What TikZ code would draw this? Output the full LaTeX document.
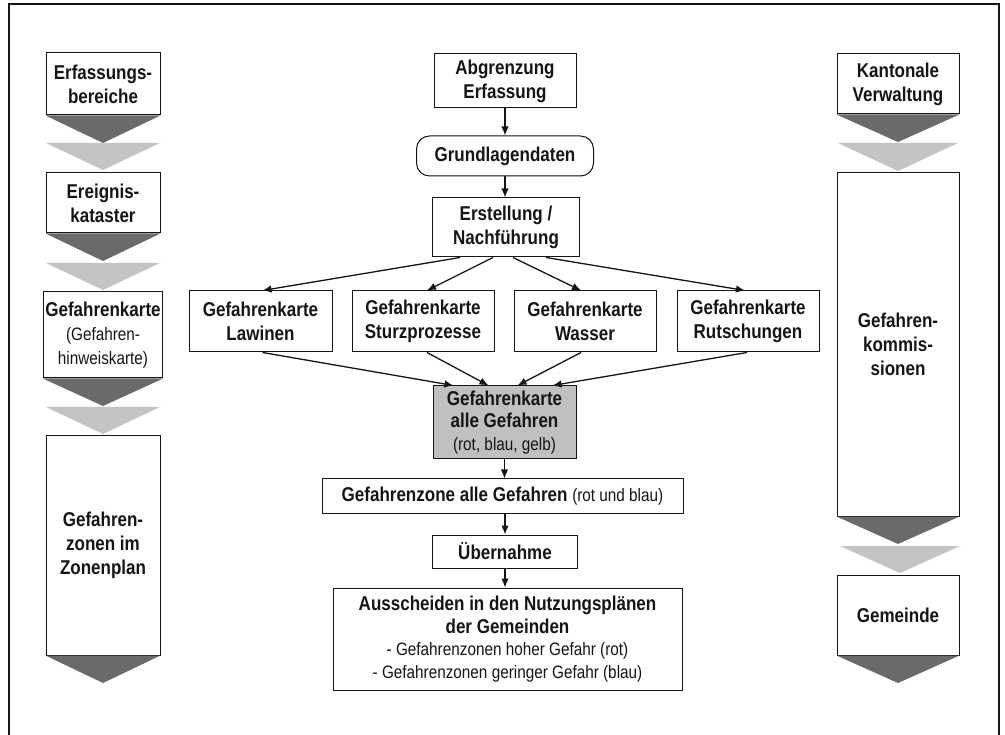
\documentclass[tikz,border=0pt]{standalone}
\usepackage{fontspec}
\setmainfont{Liberation Sans}[FakeStretch=0.85]
\usetikzlibrary{arrows.meta,calc}
\definecolor{darktri}{HTML}{6A6A6A}
\definecolor{lighttri}{HTML}{C4C4C4}
\definecolor{boxfill}{HTML}{C0C0C0}
\definecolor{ink}{HTML}{151515}
\newcommand\smalltxt{\fontsize{18}{21.5}\selectfont\mdseries}
\begin{document}
\begin{tikzpicture}[x=1pt,y=-1pt,
  box/.style={draw=ink, line width=1pt, fill=white, align=center, inner sep=2pt,
    font=\fontsize{20}{24}\selectfont\bfseries, text=ink},
  arr/.style={line width=1.3pt, draw=ink, -{Latex[length=9pt,width=7.5pt]}},
  darkt/.style={fill=darktri},
  lightt/.style={fill=lighttri}]
\useasboundingbox (0,0) rectangle (1005,735);
\draw[line width=1.3pt, ink] (9,760) -- (9,4) -- (999,4) -- (999,760);

% ---------- left column ----------
\node[box, minimum width=114pt, minimum height=62pt] (erf) at (103,84) {Erfassungs-\\bereiche};
\node[box, minimum width=114pt, minimum height=60pt] (ereig) at (103,203) {Ereignis-\\kataster};
\node[box, minimum width=114pt, minimum height=86pt] (gkarte) at (103,335) {Gefahrenkarte\\{\smalltxt (Gefahren-}\\{\smalltxt hinweiskarte)}};
\node[box, minimum width=114pt, minimum height=219pt] (gzonen) at (103,545.5) {Gefahren-\\zonen im\\Zonenplan};

\foreach \n in {erf,ereig,gkarte,gzonen}{
  \fill[darkt] (\n.south west) -- (\n.south east) -- ($(\n.south)+(0,27.5)$) -- cycle;
}
\fill[lightt] (46,143) -- (160,143) -- (103,170) -- cycle;
\fill[lightt] (46,263) -- (160,263) -- (103,290) -- cycle;
\fill[lightt] (46,407) -- (160,407) -- (103,434) -- cycle;

% ---------- right column ----------
\node[box, minimum width=122pt, minimum height=60pt] (kant) at (898,84) {Kantonale\\Verwaltung};
\node[box, minimum width=122pt, minimum height=343pt] (komm) at (898,344.5) {Gefahren-\\kommis-\\sionen};
\node[box, minimum width=122pt, minimum height=80pt] (gem) at (898,615) {Gemeinde};

\foreach \n in {kant,komm,gem}{
  \fill[darkt] (\n.south west) -- (\n.south east) -- ($(\n.south)+(0,27.5)$) -- cycle;
}
\fill[lightt] (838,143) -- (958,143) -- (898,171) -- cycle;
\fill[lightt] (840,546) -- (960,546) -- (900,573) -- cycle;

% ---------- centre column ----------
\node[box, minimum width=142pt, minimum height=54pt] (abgr) at (505,81) {Abgrenzung\\Erfassung};
\node[box, rounded corners=13pt, minimum width=177pt, minimum height=40pt] (grund) at (505,156) {Grundlagendaten};
\node[box, minimum width=147pt, minimum height=59pt] (erst) at (506,227.5) {Erstellung /\\Nachführung};

\node[box, minimum width=143pt, minimum height=61pt] (law) at (260.5,321.5) {Gefahrenkarte\\Lawinen};
\node[box, minimum width=142pt, minimum height=61pt] (sturz) at (423,321.5) {Gefahrenkarte\\Sturzprozesse};
\node[box, minimum width=142pt, minimum height=61pt] (wass) at (585,321.5) {Gefahrenkarte\\Wasser};
\node[box, minimum width=142pt, minimum height=61pt] (rut) at (748,321.5) {Gefahrenkarte\\Rutschungen};

\node[box, fill=boxfill, minimum width=143pt, minimum height=73pt,
  font=\fontsize{20}{22.5}\selectfont\bfseries] (alle) at (504.5,422.5) {Gefahrenkarte\\alle Gefahren\\{\smalltxt (rot, blau, gelb)}};
\node[box, minimum width=361pt, minimum height=34pt] (zone) at (502.5,496) {Gefahrenzone alle Gefahren {\smalltxt (rot und blau)}};
\node[box, minimum width=145pt, minimum height=33pt] (ueber) at (505,551.5) {Übernahme};
\node[box, minimum width=349pt, minimum height=102pt,
  font=\fontsize{20}{22.5}\selectfont\bfseries] (aus) at (507.5,639) {Ausscheiden in den Nutzungsplänen\\der Gemeinden\\{\smalltxt - Gefahrenzonen hoher Gefahr (rot)}\\{\smalltxt - Gefahrenzonen geringer Gefahr (blau)}};

% ---------- connectors ----------
\draw[arr] (abgr.south) -- (abgr.south |- grund.north);
\draw[arr] (grund.south) -- (grund.south |- erst.north);

\draw[arr] ([xshift=-46pt]erst.south) -- ([xshift=2pt]law.north);
\draw[arr] ([xshift=-13pt]erst.south) -- ([xshift=4pt]sturz.north);
\draw[arr] ([xshift=7pt]erst.south) -- ([xshift=-4pt]wass.north);
\draw[arr] ([xshift=40pt]erst.south) -- ([xshift=-3pt]rut.north);

\draw[arr] ([xshift=2pt]law.south) -- ([xshift=-51pt]alle.north);
\draw[arr] ([xshift=4pt]sturz.south) -- ([xshift=-16pt]alle.north);
\draw[arr] ([xshift=-4pt]wass.south) -- ([xshift=13pt]alle.north);
\draw[arr] ([xshift=-1pt]rut.south) -- ([xshift=48pt]alle.north);

\draw[arr] (alle.south) -- (alle.south |- zone.north);
\draw[arr] (zone.south -| ueber.north) -- (ueber.north);
\draw[arr] (ueber.south) -- (ueber.south |- aus.north);
\end{tikzpicture}
\end{document}
